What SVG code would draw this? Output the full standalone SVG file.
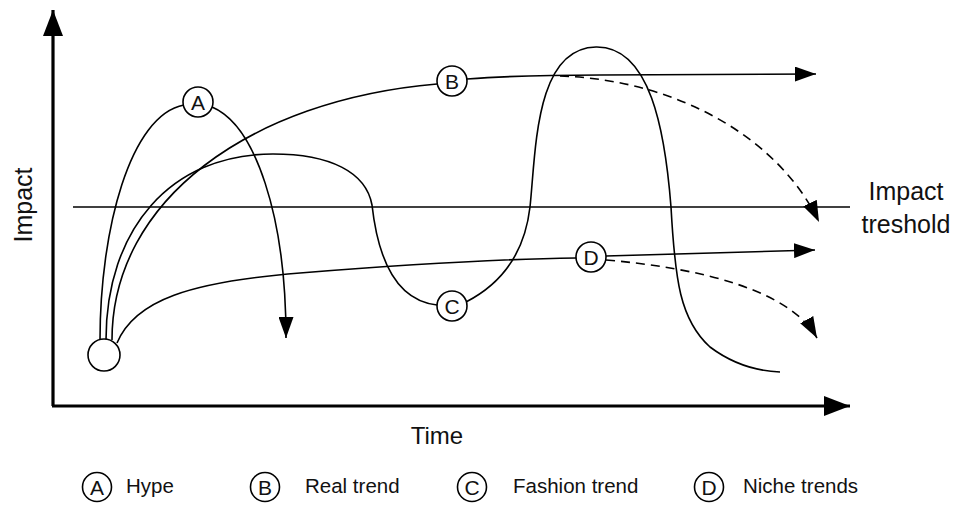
<svg xmlns="http://www.w3.org/2000/svg" width="955" height="506" viewBox="0 0 955 506">
  <style>
    .curve { fill: none; stroke: #000; stroke-width: 1.6; }
    .dash { stroke-dasharray: 9 6; }
    .axis { fill: none; stroke: #000; stroke-width: 3.2; }
    .node { fill: #fff; stroke: #000; stroke-width: 1.6; }
    .lbl { font-family: "Liberation Sans", Arial, sans-serif; fill: #111; }
    .nl { font-family: "Liberation Sans", Arial, sans-serif; font-size: 21px; fill: #111; text-anchor: middle; }
  </style>
  <defs>
    <marker id="ah" markerUnits="userSpaceOnUse" markerWidth="21" markerHeight="15" viewBox="0 0 21 15" refX="21" refY="7.5" orient="auto">
      <path d="M0,0 L21,7.5 L0,15 Z" fill="#000" stroke="none"/>
    </marker>
    <marker id="ahBig" markerUnits="userSpaceOnUse" markerWidth="26" markerHeight="20" viewBox="0 0 26 20" refX="26" refY="10" orient="auto">
      <path d="M0,0 L26,10 L0,20 Z" fill="#000" stroke="none"/>
    </marker>
  </defs>
  <rect width="955" height="506" fill="#fff"/>

  <g id="axes">
    <path class="axis" d="M53,406 L53,10" marker-end="url(#ahBig)"/>
    <path class="axis" d="M52,406 L850,406" marker-end="url(#ahBig)"/>
    <text class="lbl" font-size="25" text-anchor="middle" transform="translate(32,205) rotate(-90)">Impact</text>
    <text class="lbl" font-size="24" text-anchor="middle" x="437" y="444">Time</text>
  </g>

  <g id="threshold">
    <path class="curve" d="M73,207 L850,207"/>
    <text class="lbl" font-size="25" text-anchor="middle" x="906" y="200">Impact</text>
    <text class="lbl" font-size="25" text-anchor="middle" x="906" y="233">treshold</text>
  </g>

  <g id="connectors">
    <!-- A: Hype -->
    <path class="curve" d="M100,340 C100,230 130,115 184,105"/>
    <path class="curve" d="M212,107 C255,125 286,215 286,338" marker-end="url(#ah)"/>
    <!-- B: Real trend -->
    <path class="curve" d="M112,340 C112,200 250,100 437,84"/>
    <path class="curve" d="M467,79 C520,75 560,75 600,75 L816,74" marker-end="url(#ah)"/>
    <path class="curve dash" d="M560,76 C680,80 780,140 819,222" marker-end="url(#ah)"/>
    <!-- C: Fashion trend -->
    <path class="curve" d="M106,340 C106,230 170,154 273,154 C330,154 366,172 372,205 C377,250 392,300 437,305"/>
    <path class="curve" d="M466,302 C505,282 525,250 530,207 C536,150 535,48 596,47 C650,46 665,130 671,207 C675,280 680,320 710,347 C730,362 755,371 780,372"/>
    <!-- D: Niche trends -->
    <path class="curve" d="M117,343 C135,300 190,282 300,273 C400,265 500,259 576,258"/>
    <path class="curve" d="M606,256 L815,250" marker-end="url(#ah)"/>
    <path class="curve dash" d="M606,260 C700,268 790,290 817,338" marker-end="url(#ah)"/>
  </g>

  <g id="origin">
    <circle class="node" cx="104" cy="355" r="16"/>
  </g>
  <g id="node-A">
    <circle class="node" cx="198" cy="102" r="15"/>
    <text class="nl" x="198" y="110">A</text>
  </g>
  <g id="node-B">
    <circle class="node" cx="452" cy="81" r="15"/>
    <text class="nl" x="452" y="89">B</text>
  </g>
  <g id="node-C">
    <circle class="node" cx="452" cy="306" r="15"/>
    <text class="nl" x="452" y="314">C</text>
  </g>
  <g id="node-D">
    <circle class="node" cx="591" cy="257" r="15"/>
    <text class="nl" x="591" y="265">D</text>
  </g>

  <g id="legend">
    <g id="legend-A">
      <circle class="node" cx="97" cy="487" r="14.5"/>
      <text class="nl" x="97" y="495">A</text>
      <text class="lbl" font-size="20.5" x="126" y="493">Hype</text>
    </g>
    <g id="legend-B">
      <circle class="node" cx="265" cy="487" r="14.5"/>
      <text class="nl" x="265" y="495">B</text>
      <text class="lbl" font-size="20.5" x="305" y="493">Real trend</text>
    </g>
    <g id="legend-C">
      <circle class="node" cx="472" cy="487" r="14.5"/>
      <text class="nl" x="472" y="495">C</text>
      <text class="lbl" font-size="20.5" x="513" y="493">Fashion trend</text>
    </g>
    <g id="legend-D">
      <circle class="node" cx="709" cy="487" r="14.5"/>
      <text class="nl" x="709" y="495">D</text>
      <text class="lbl" font-size="20.5" x="743" y="493">Niche trends</text>
    </g>
  </g>
</svg>
